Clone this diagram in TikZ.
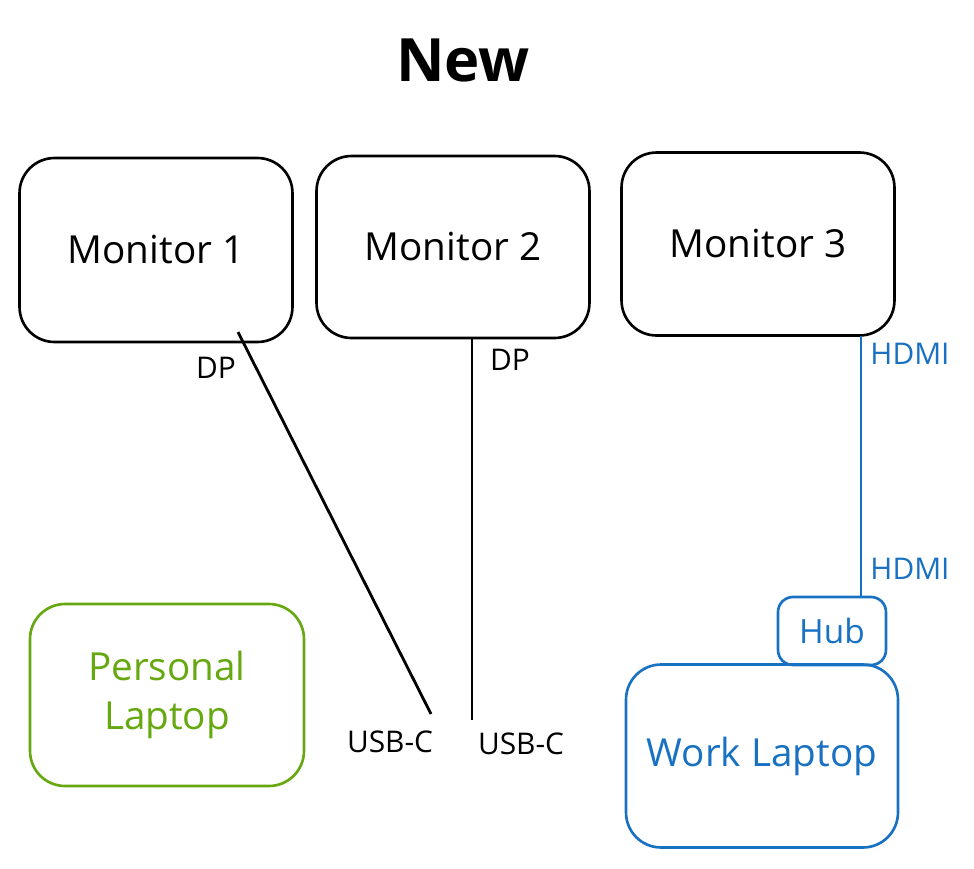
\documentclass[tikz,border=0pt]{standalone}
\usepackage{fontspec}
\setmainfont{Open Sans}
\definecolor{sketchgreen}{HTML}{66A80F}
\definecolor{sketchblue}{HTML}{1971C2}
\begin{document}
\begin{tikzpicture}[x=0.02cm, y=-0.02cm,
    box/.style={draw, line width=1.5pt, rounded corners=0.7cm, align=center, font=\fontsize{22}{28}\selectfont},
    lbl/.style={font=\fontsize{17}{20}\selectfont},
    wire/.style={line width=1.6pt}]

            \useasboundingbox (0,0) rectangle (974,869);

            \node[font=\fontsize{34}{40}\selectfont\bfseries] (title) at (463,60) {New};

            \node[box, minimum width=5.46cm, minimum height=3.68cm] (mon1) at (156,250) {Monitor 1};
            \node[box, minimum width=5.46cm, minimum height=3.64cm] (mon2) at (453,247) {Monitor 2};
            \node[box, minimum width=5.46cm, minimum height=3.66cm] (mon3) at (758,244) {Monitor 3};

            \node[box, sketchgreen, minimum width=5.48cm, minimum height=3.64cm] (perslap) at (167,695) {Personal\\Laptop};
            \node[box, sketchblue, minimum width=5.44cm, minimum height=3.66cm] (worklap) at (762,756) {Work Laptop};
            \node[box, sketchblue, rounded corners=0.3cm, font=\fontsize{19}{23}\selectfont,
                  minimum width=2.16cm, minimum height=1.36cm] (hub) at (832,631) {Hub};

            %% cables
            \coordinate (dp1) at (238,332);
            \coordinate (usbc1) at (431,714);
            \draw[wire] (dp1) -- (usbc1);
            \coordinate (dp2) at (472,338);
            \coordinate (usbc2) at (472,720);
            \draw[wire] (dp2) -- (usbc2);
            \coordinate (hdmi) at (861,336);
            \draw[wire, sketchblue] (hdmi) -- (hdmi |- hub.north);

            \node[lbl] (dp1lbl) at (216,368) {DP};
            \node[lbl] (dp2lbl) at (510,360) {DP};
            \node[lbl] (usbc1lbl) at (390,742) {USB-C};
            \node[lbl] (usbc2lbl) at (521,744) {USB-C};
            \node[lbl, sketchblue] (hdmi1lbl) at (910,354) {HDMI};
            \node[lbl, sketchblue] (hdmi2lbl) at (910,569) {HDMI};

        \end{tikzpicture}
\end{document}
